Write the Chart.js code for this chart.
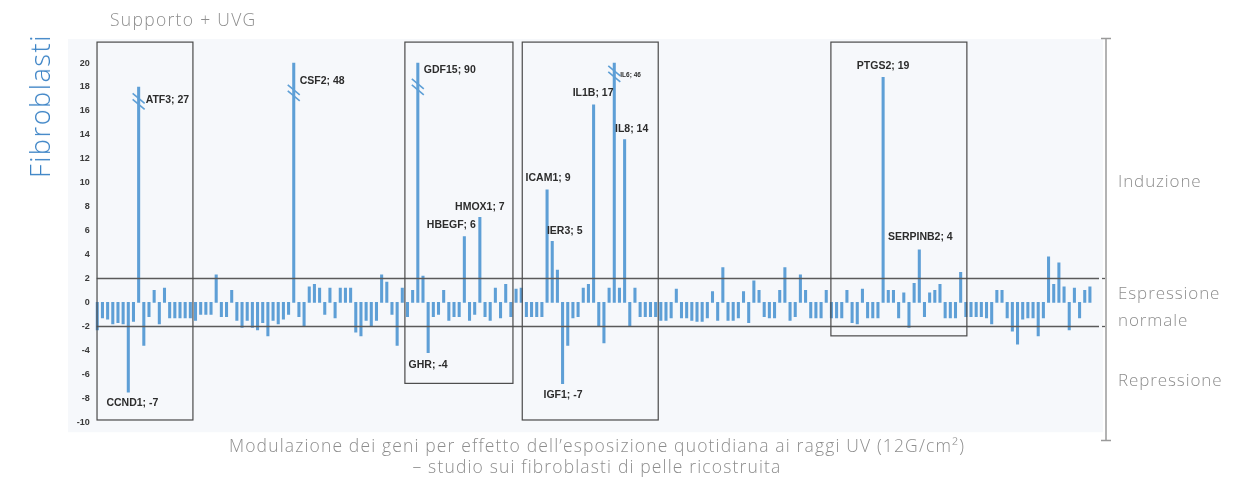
<!DOCTYPE html>
<html>
<head>
<meta charset="utf-8">
<script src="https://cdn.jsdelivr.net/npm/chart.js@4.4.0/dist/chart.umd.min.js"></script>
<style>
  html, body { margin: 0; padding: 0; background: #fff; }
  #wrap { position: relative; width: 1252px; height: 483px; overflow: hidden; font-family: "Open Sans", sans-serif; }
  #geneChart { position: absolute; left: 0; top: 0; }
  .txt { position: absolute; color: #8d8d8d; font-weight: 300; white-space: nowrap; line-height: 20px; letter-spacing: 0.9px; }
</style>
</head>
<body>
<div id="wrap">
  <canvas id="geneChart" width="1252" height="483"></canvas>
  <div class="txt" style="left:110px;top:9px;font-size:17.5px;letter-spacing:1.3px;">Supporto + UVG</div>
  <div class="txt" style="left:40px;top:106px;font-size:27px;letter-spacing:1.6px;color:#3d84c6;transform:translate(-50%,-50%) rotate(-90deg);">Fibroblasti</div>
  <div class="txt" style="left:1118px;top:171px;font-size:17px;">Induzione</div>
  <div class="txt" style="left:1118px;top:279px;font-size:17px;line-height:27px;">Espressione<br>normale</div>
  <div class="txt" style="left:1118px;top:370px;font-size:17px;">Repressione</div>
  <div class="txt" style="left:147px;top:435px;width:900px;text-align:center;font-size:17.5px;line-height:21px;letter-spacing:1.15px;">Modulazione dei geni per effetto dell’esposizione quotidiana ai raggi UV (12G/cm²)<br>– studio sui fibroblasti di pelle ricostruita</div>
</div>
<script>
// fold change per gene (log scale, clipped at 20 for the off-scale ones)
var expression = [
  -2.3, -1.3, -1.4, -1.8, -1.7, -1.8, -7.5, -1.6, 18, -3.6,
  -1.2, 1.0, -1.8, 1.2, -1.3, -1.3, -1.3, -1.3, -1.3, -1.5,
  -1.0, -1.0, -1.0, 2.3, -1.2, -1.2, 1.0, -1.5, -2.1, -1.5,
  -2.1, -2.3, -1.7, -2.8, -1.5, -1.8, -1.4, -1.0, 20, -1.2,
  -2.0, 1.3, 1.5, 1.2, -1.0, 1.2, -1.3, 1.2, 1.2, 1.2,
  -2.5, -2.8, -1.5, -2.0, -1.5, 2.3, 1.7, -1.0, -3.6, 1.2,
  -1.2, 1.0, 20, 2.2, -4.2, -1.2, -1.0, 1.0, -1.5, -1.2,
  -1.2, 5.5, -1.5, -1.0, 7.1, -1.2, -1.5, 1.2, -1.3, 1.5,
  -1.2, 1.1, 1.2, -1.2, -1.2, -1.2, -1.2, 9.4, 5.1, 2.7,
  -6.8, -3.6, -1.3, -1.2, 1.2, 1.5, 16.5, -2.0, -3.4, 1.2,
  20, 1.2, 13.6, -2.0, 1.2, -1.2, -1.2, -1.2, -1.2, -1.5,
  -1.5, -1.3, 1.1, -1.3, -1.3, -1.5, -1.6, -1.6, -1.3, 0.9,
  -1.5, 2.9, -1.5, -1.5, -1.3, 0.9, -1.7, 1.8, 1.0, -1.2,
  -1.3, -1.3, 1.0, 2.9, -1.5, -1.2, 2.3, 1.0, -1.3, -1.3,
  -1.3, 1.0, -1.3, -1.3, -1.3, 1.0, -1.7, -1.8, 1.1, -1.3,
  -1.3, -1.3, 18.8, 1.0, 1.0, -1.3, 0.8, -2.1, 1.6, 4.4,
  -1.2, 0.8, 1.0, 1.5, -1.3, -1.3, -1.3, 2.5, -1.2, -1.2,
  -1.2, -1.2, -1.3, -1.8, 1.0, 1.0, -1.3, -2.4, -3.5, -1.4,
  -1.3, -1.3, -2.8, -1.3, 3.8, 1.5, 3.3, 1.3, -2.3, 1.2,
  -1.3, 1.0, 1.3
];
var geneLabels = expression.map(function(v, i) { return 'gene ' + (i + 1); });

var yTicks = [-10, -8, -6, -4, -2, 0, 2, 4, 6, 8, 10, 12, 14, 16, 18, 20];

// named genes
var namedIndex = [6, 8, 38, 62, 64, 71, 74, 87, 88, 90, 96, 100, 102, 152, 159];
var namedText = ['CCND1; -7', 'ATF3; 27', 'CSF2; 48', 'GDF15; 90', 'GHR; -4', 'HBEGF; 6', 'HMOX1; 7',
                 'ICAM1; 9', 'IER3; 5', 'IGF1; -7', 'IL1B; 17', 'IL6; 46', 'IL8; 14', 'PTGS2; 19', 'SERPINB2; 4'];
// bars cut with a break mark, and where
var breakIndex = [8, 38, 62, 100];
var breakValue = [16.8, 17.5, 18.0, 19.1];
// highlighted groups (category span + lower edge)
var boxFrom = [-0.05, 59.5, 82.2, 141.9];
var boxTo = [18.5, 80.4, 108.5, 168.2];
var boxBottom = [-9.83, -6.77, -9.83, -2.8];

// label placement: align, dx, dy (px from bar end), font size
var labelPlace = [
  ['right', 30, 11, 10.5], ['left', 7, 13, 10.5], ['left', 6, 18, 10.5], ['left', 6, 7, 10.5],
  ['center', 0, 12.5, 10.5], ['center', -13, -11.5, 10.5], ['center', 0, -10.5, 10.5],
  ['center', 1, -11.5, 10.5], ['center', 12.5, -10, 10.5], ['center', 0.5, 11.5, 10.5],
  ['center', -0.5, -11.5, 10.5], ['left', 6, 12, 6.5], ['center', 7, -10.5, 10.5],
  ['center', 0, -11.5, 10.5], ['center', 1, -12.5, 10.5]
];

var overlay = {
  id: 'overlay',
  beforeDraw: function(chart) {
    var ctx = chart.ctx, a = chart.chartArea;
    ctx.save();
    ctx.fillStyle = '#f6f8fb';
    ctx.fillRect(68, 39, 1103 - 68, a.bottom + 3 - 39);
    ctx.restore();
  },
  afterDatasetsDraw: function(chart) {
    var ctx = chart.ctx, x = chart.scales.x, y = chart.scales.y, a = chart.chartArea;
    ctx.save();

    // normal expression band
    ctx.strokeStyle = '#5a5a5a';
    ctx.lineWidth = 1.3;
    [2, -2].forEach(function(v) {
      var py = Math.round(y.getPixelForValue(v)) + 0.5;
      ctx.beginPath(); ctx.moveTo(a.left + 2, py); ctx.lineTo(1099, py); ctx.stroke();
      ctx.beginPath(); ctx.moveTo(1102, py); ctx.lineTo(1105, py); ctx.stroke();
    });

    // boxes
    ctx.strokeStyle = '#4a4a4a';
    ctx.lineWidth = 1.2;
    for (var b = 0; b < boxFrom.length; b++) {
      var x0 = x.getPixelForValue(boxFrom[b]), x1 = x.getPixelForValue(boxTo[b]);
      var y0 = y.getPixelForValue(21.75), y1 = y.getPixelForValue(boxBottom[b]);
      ctx.strokeRect(x0, y0, x1 - x0, y1 - y0);
    }

    // break marks
    ctx.strokeStyle = '#5e9fd6';
    ctx.lineWidth = 1.6;
    for (var k = 0; k < breakIndex.length; k++) {
      var bx = x.getPixelForValue(breakIndex[k]), by = y.getPixelForValue(breakValue[k]);
      [-3, 3].forEach(function(o) {
        ctx.beginPath(); ctx.moveTo(bx - 6, by + o - 5); ctx.lineTo(bx + 6, by + o + 5); ctx.stroke();
      });
    }

    // gene names
    ctx.beginPath(); ctx.rect(a.left, 0, 1103 - a.left, 483); ctx.clip();
    ctx.fillStyle = '#2c2c2c';
    ctx.textBaseline = 'middle';
    for (var n = 0; n < namedIndex.length; n++) {
      var p = labelPlace[n], i = namedIndex[n];
      ctx.font = 'bold ' + p[3] + 'px "Liberation Sans", Arial, sans-serif';
      ctx.textAlign = p[0];
      ctx.fillText(namedText[n], x.getPixelForValue(i) + p[1], y.getPixelForValue(expression[i]) + p[2]);
    }
    ctx.restore();

    // right bracket
    ctx.save();
    ctx.strokeStyle = '#9a9a9a';
    ctx.lineWidth = 1.5;
    ctx.beginPath(); ctx.moveTo(1106, 38); ctx.lineTo(1106, 441); ctx.stroke();
    ctx.beginPath(); ctx.moveTo(1101, 38.5); ctx.lineTo(1111, 38.5); ctx.stroke();
    ctx.beginPath(); ctx.moveTo(1101, 440.5); ctx.lineTo(1111, 440.5); ctx.stroke();
    ctx.restore();
  }
};

var ctx = document.getElementById('geneChart').getContext('2d');
new Chart(ctx, {
  type: 'bar',
  data: {
    labels: geneLabels,
    datasets: [{
      data: expression,
      backgroundColor: '#5e9fd6',
      barThickness: 2.4
    }]
  },
  options: {
    responsive: false,
    animation: false,
    devicePixelRatio: 1,
    layout: { padding: { left: 0, top: 41.5, right: 159.5, bottom: 53.8 } },
    plugins: { legend: { display: false }, tooltip: { enabled: false } },
    scales: {
      x: { display: false },
      y: {
        min: -10.6,
        max: 21.8,
        afterFit: function(s) { s.width = 94.7; },
        afterBuildTicks: function(s) { s.ticks = yTicks.map(function(v) { return { value: v }; }); },
        grid: { display: false, drawTicks: false },
        border: { display: false },
        ticks: { padding: 5, color: '#3a3a3a', font: { size: 9, weight: 'bold', family: '"Liberation Sans", Arial' } }
      }
    }
  },
  plugins: [overlay]
});
</script>
</body>
</html>
